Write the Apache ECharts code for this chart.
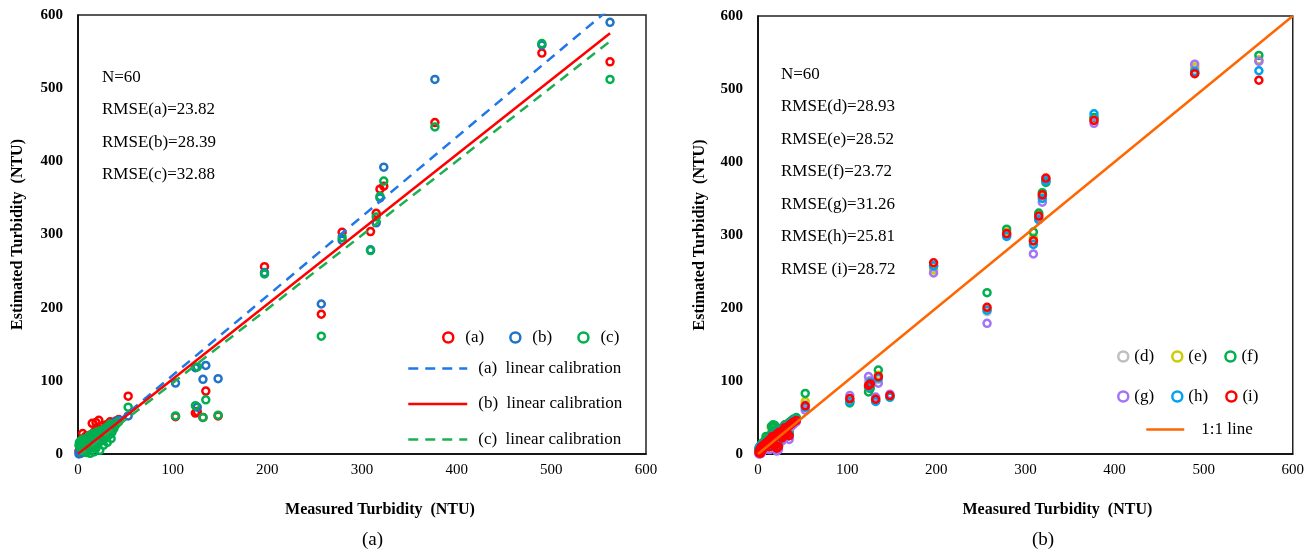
<!DOCTYPE html>
<html>
<head>
<meta charset="utf-8">
<script src="https://cdn.jsdelivr.net/npm/echarts@6/dist/echarts.min.js"></script>
<style>
html,body{margin:0;padding:0;background:#fff;}
#chart{width:1307px;height:552px;}
</style>
</head>
<body>
<div id="chart"></div>
<script>
// ---------- DATA ----------
const measured = [1,1.5,2,2.5,3,3.5,4,4.5,5,6,7,8,9,10,11,12,13,14,15,16,17,18,19,20,21,22,23,24,25,26,27,28,29,30,31,32,33,34,35,36,38,40,43,
  53,103,124,126,132,135,148,197,257,279,309,315,319,323,377,490,562];

// left panel: estimated turbidity
const estA = [4,2,8,12,3,15,6,20,28,10,18,24,14,22,12,19,26,16,42,20,30,24,43,28,35,46,32,27,38,30,34,29,36,40,33,38,42,44,41,37,43,45,47,
  79,51,56,58,50,86,52,256,191,303,304,329,362,366,453,548,536];
const estB = [0,3,2,6,1,8,4,10,12,5,10,14,8,12,9,15,18,11,22,14,20,16,26,19,24,28,22,26,30,24,31,27,33,30,35,31,36,38,34,40,42,44,46,
  52,97,118,64,102,121,103,248,205,292,279,316,350,392,512,559,590];
const estC = [12,16,10,14,18,8,15,12,20,14,4,18,2,22,6,25,1,20,10,28,3,24,8,30,14,26,5,32,18,28,12,34,22,36,16,38,26,41,21,30,35,40,44,
  64,52,66,119,50,74,53,246,161,296,278,324,352,373,447,561,512];

// right panel: estimated turbidity
const estD = [7,5,9,3,8,5,11,6,8,12,9,14,11,16,13,18,10,20,16,24,14,22,12,26,9,28,11,30,24,28,22,32,27,36,30,34,28,38,26,40,42,44,46,
  68,74,100,98,76,102,80,254,195,300,290,324,352,376,460,528,538];
const estE = [5,7,9,3,11,6,13,8,10,15,12,17,22,19,16,21,14,25,36,28,38,27,37,30,12,32,13,33,27,31,25,35,30,38,33,37,31,41,29,42,45,47,49,
  72,73,90,95,76,108,79,252,198,304,296,328,354,375,458,530,540];
const estF = [6,8,10,4,12,7,14,9,11,16,13,18,24,20,17,22,15,26,38,30,40,28,39,32,12,34,14,35,28,32,26,36,31,40,34,38,32,42,30,44,46,48,50,
  83,70,85,90,73,115,78,258,221,308,304,330,358,372,461,522,546];
const estG = [0,2,4,0,5,1,7,3,4,8,6,10,8,12,9,14,6,16,12,20,10,18,8,22,4,24,6,26,20,24,18,28,23,32,26,30,24,34,20,36,39,41,44,
  60,80,106,100,78,97,82,248,179,300,274,322,345,376,453,534,538];
const estH = [8,5,10,3,9,6,12,7,9,13,10,15,12,17,14,19,11,21,17,25,15,23,13,27,9,29,11,31,25,29,23,33,28,37,31,35,29,39,26,41,43,45,47,
  64,72,92,98,72,104,78,258,197,298,287,321,350,374,466,524,525];
const estI = [2,4,6,1,8,3,10,5,7,12,9,14,11,16,13,18,10,20,16,24,14,22,12,26,8,28,10,30,24,28,22,32,27,36,30,34,28,38,25,40,42,44,46,
  66,76,94,96,75,106,80,262,201,302,292,326,355,378,457,521,512];

// calibration lines (endpoints) and 1:1 line
const calibA = [[0,-1],[562,609]];
const calibB = [[0,0],[562,575]];
const calibC = [[0,-4],[562,564]];
const oneToOne = [[0,0],[600,600]];

const leftNotes = ['N=60','RMSE(a)=23.82','RMSE(b)=28.39','RMSE(c)=32.88'];
const rightNotes = ['N=60','RMSE(d)=28.93','RMSE(e)=28.52','RMSE(f)=23.72','RMSE(g)=31.26','RMSE(h)=25.81','RMSE (i)=28.72'];

// ---------- CHART ----------
const FONT = "'Liberation Serif','Times New Roman',serif";
const pairs = (ys) => measured.map((x, k) => [x, ys[k]]);

function xAx(gi) {
  return {
    gridIndex: gi, type: 'value', min: 0, max: 600, interval: 100,
    name: 'Measured Turbidity  (NTU)', nameLocation: 'middle', nameGap: 48,
    nameTextStyle: { fontFamily: FONT, fontWeight: 'bold', fontSize: 16, color: '#000', padding: gi === 0 ? [0,0,0,36] : [0,0,0,64] },
    axisLine: { show: true, lineStyle: { color: '#000', width: 1.5 } },
    axisTick: { show: false }, splitLine: { show: false },
    axisLabel: { fontFamily: FONT, fontSize: 15, color: '#000', margin: 9 }
  };
}
function yAx(gi) {
  return {
    gridIndex: gi, type: 'value', min: 0, max: 600, interval: 100,
    name: 'Estimated Turbidity  (NTU)', nameLocation: 'middle', nameGap: gi === 0 ? 52 : 50,
    nameTextStyle: { fontFamily: FONT, fontWeight: 'bold', fontSize: 16, color: '#000' },
    axisLine: { show: true, lineStyle: { color: '#000', width: 1.5 } },
    axisTick: { show: false }, splitLine: { show: false },
    axisLabel: { fontFamily: FONT, fontSize: 15, color: '#000', margin: 15, fontWeight: 'bold' }
  };
}
function sc(name, data, color, gi, z) {
  return {
    name, type: 'scatter', xAxisIndex: gi, yAxisIndex: gi, data,
    symbol: 'circle', symbolSize: 7, z: z,
    itemStyle: { color: 'rgba(255,255,255,0)', borderColor: color, borderWidth: 2.5, opacity: 1 }
  };
}
function ln(name, data, color, type, gi) {
  return {
    name, type: 'line', xAxisIndex: gi, yAxisIndex: gi, data,
    symbol: 'none', showSymbol: false, z: 10,
    lineStyle: { color: color, width: 2.5, type: type },
    itemStyle: { color: color }
  };
}

const legendText = { fontFamily: FONT, fontSize: 17, color: '#000' };
const hiddenSymbol = { color: 'rgba(0,0,0,0)', borderColor: 'rgba(0,0,0,0)', borderWidth: 0, opacity: 0 };
const markerLegendStyle = { borderWidth: 2.5 };

const notesGraphic = [];
leftNotes.forEach((t, k) => notesGraphic.push({ type: 'text', left: 102, top: 69 + k * 32.5, style: { text: t, font: "17px 'Liberation Serif', serif", fill: '#000' } }));
rightNotes.forEach((t, k) => notesGraphic.push({ type: 'text', left: 781, top: 66 + k * 32.5, style: { text: t, font: "17px 'Liberation Serif', serif", fill: '#000' } }));
notesGraphic.push({ type: 'text', left: 362, top: 531, style: { text: '(a)', font: "19px 'Liberation Serif', serif", fill: '#000' } });
notesGraphic.push({ type: 'text', left: 1032, top: 531, style: { text: '(b)', font: "19px 'Liberation Serif', serif", fill: '#000' } });

const option = {
  animation: false,
  backgroundColor: '#fff',
  grid: [
    { left: 78, top: 15, width: 568, height: 439, show: true, borderColor: '#222', borderWidth: 1.5, backgroundColor: 'transparent' },
    { left: 758, top: 16, width: 536, height: 438, show: true, borderColor: '#222', borderWidth: 1.5, backgroundColor: 'transparent' }
  ],
  xAxis: [xAx(0), xAx(1)],
  yAxis: [yAx(0), yAx(1)],
  legend: [
    { data: ['(a)','(b)','(c)'], left: 442, top: 329, padding: 0, orient: 'horizontal', itemWidth: 12, itemHeight: 10, itemGap: 25, itemStyle: markerLegendStyle, textStyle: Object.assign({ padding: [0,0,0,6] }, legendText) },
    { data: ['(a)  linear calibration','(b)  linear calibration','(c)  linear calibration'], left: 407, top: 360, padding: 0, orient: 'vertical', itemWidth: 59, itemHeight: 14, itemGap: 18.5, itemStyle: hiddenSymbol, lineStyle: { width: 2.5 }, textStyle: Object.assign({ padding: [0,0,0,6] }, legendText) },
    { data: ['(d)','(e)','(f)'], left: 1117, top: 348, padding: 0, orient: 'horizontal', itemWidth: 12, itemHeight: 10, itemGap: 17, itemStyle: markerLegendStyle, textStyle: legendText },
    { data: ['(g)','(h)','(i)'], left: 1117, top: 388, padding: 0, orient: 'horizontal', itemWidth: 12, itemHeight: 10, itemGap: 17, itemStyle: markerLegendStyle, textStyle: legendText },
    { data: ['1:1 line'], left: 1145, top: 421, padding: 0, orient: 'horizontal', itemWidth: 38, itemHeight: 14, itemStyle: hiddenSymbol, lineStyle: { width: 2.5 }, textStyle: Object.assign({ padding: [0,0,0,12] }, legendText) }
  ],
  graphic: notesGraphic,
  series: [
    sc('(a)', pairs(estA), '#FF0000', 0, 2),
    sc('(b)', pairs(estB), '#1F74C8', 0, 3),
    sc('(c)', pairs(estC), '#00B050', 0, 4),
    ln('(a)  linear calibration', calibA, '#2077E8', [10, 7], 0),
    ln('(b)  linear calibration', calibB, '#FF0000', 'solid', 0),
    ln('(c)  linear calibration', calibC, '#1DB050', [10, 7], 0),
    sc('(d)', pairs(estD), '#BFBFBF', 1, 2),
    sc('(e)', pairs(estE), '#CCCC00', 1, 3),
    sc('(f)', pairs(estF), '#00B050', 1, 4),
    sc('(g)', pairs(estG), '#A374F5', 1, 5),
    sc('(h)', pairs(estH), '#00A2F0', 1, 6),
    sc('(i)', pairs(estI), '#FF0000', 1, 7),
    ln('1:1 line', oneToOne, '#FF6600', 'solid', 1)
  ]
};

const chart = echarts.init(document.getElementById('chart'), null, { renderer: 'canvas' });
chart.setOption(option);
</script>
</body>
</html>
